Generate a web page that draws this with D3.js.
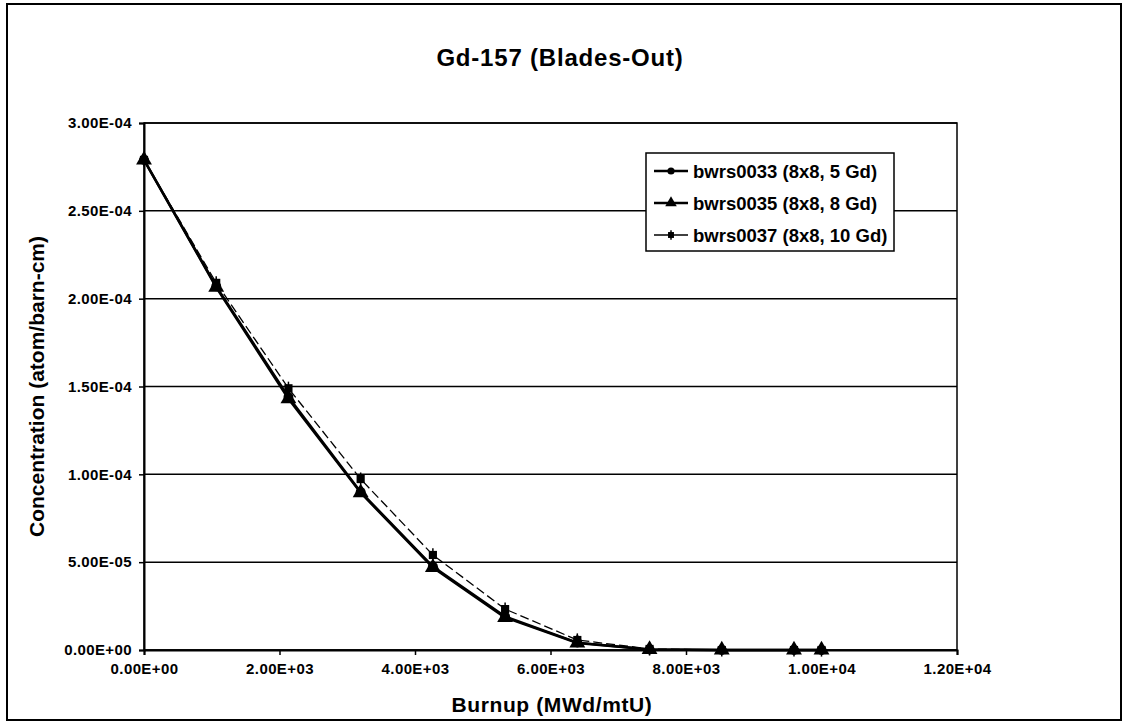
<!DOCTYPE html>
<html>
<head>
<meta charset="utf-8">
<script src="https://cdn.jsdelivr.net/npm/d3@7"></script>
<style>
    body { margin: 0; background: #fff; }
    svg text { font-family: Arial, "Liberation Sans", sans-serif; fill: #000; }
</style>
</head>
<body>
<div id="chart"></div>
<script>
var burnup = [0, 1066, 2132, 3198, 4264, 5330, 6396, 7462, 8528, 9594, 10000];
var gd5 = [2.79e-4, 2.07e-4, 1.44e-4, 9.0e-5, 4.75e-5, 1.9e-5, 4.2e-6, 3e-7, 0, 0, 0];
var gd8 = [2.79e-4, 2.065e-4, 1.43e-4, 8.95e-5, 4.7e-5, 1.85e-5, 4.0e-6, 3e-7, 0, 0, 0];
var gd10 = [2.79e-4, 2.09e-4, 1.49e-4, 9.73e-5, 5.41e-5, 2.33e-5, 5.7e-6, 6e-7, 0, 0, 0];
var seriesNames = ['bwrs0033 (8x8, 5 Gd)', 'bwrs0035 (8x8, 8 Gd)', 'bwrs0037 (8x8, 10 Gd)'];
var xTicks = [0, 2000, 4000, 6000, 8000, 10000, 12000];
var yTicks = [0, 5e-5, 1e-4, 1.5e-4, 2e-4, 2.5e-4, 3e-4];

var width = 1126, height = 725;
var plot = { left: 144, right: 957, top: 123, bottom: 650 };

// excel style 1.00E-04
var sci = function (v) {
    var s = v.toExponential(2).toUpperCase();
    var parts = s.split('E');
    var e = parseInt(parts[1], 10);
    var sign = e < 0 ? '-' : '+';
    var ab = Math.abs(e);
    return parts[0] + 'E' + sign + (ab < 10 ? '0' : '') + ab;
};

var x = d3.scaleLinear().domain([0, 12000]).range([plot.left, plot.right]);
var y = d3.scaleLinear().domain([0, 3e-4]).range([plot.bottom, plot.top]);

var svg = d3.select('#chart').append('svg')
    .attr('width', width)
    .attr('height', height);

svg.append('rect')
    .attr('x', 7).attr('y', 4)
    .attr('width', 1114).attr('height', 716)
    .attr('fill', '#fff')
    .attr('stroke', '#000')
    .attr('stroke-width', 2);

svg.append('text')
    .attr('x', 560).attr('y', 66)
    .attr('text-anchor', 'middle')
    .attr('font-size', 24)
    .attr('font-weight', 'bold')
    .attr('letter-spacing', 0.8)
    .text('Gd-157 (Blades-Out)');

// gridlines
svg.append('g').selectAll('line')
    .data(yTicks)
    .enter().append('line')
    .attr('x1', plot.left).attr('x2', plot.right)
    .attr('y1', function (d) { return y(d); })
    .attr('y2', function (d) { return y(d); })
    .attr('stroke', '#000')
    .attr('stroke-width', 1.5);

svg.append('rect')
    .attr('x', plot.left).attr('y', plot.top)
    .attr('width', plot.right - plot.left).attr('height', plot.bottom - plot.top)
    .attr('fill', 'none')
    .attr('stroke', '#000')
    .attr('stroke-width', 1.5);

var xAxis = svg.append('g')
    .attr('transform', 'translate(0,' + plot.bottom + ')')
    .call(d3.axisBottom(x).tickValues(xTicks).tickFormat(sci).tickSize(5).tickPadding(8));
var yAxis = svg.append('g')
    .attr('transform', 'translate(' + plot.left + ',0)')
    .call(d3.axisLeft(y).tickValues(yTicks).tickFormat(sci).tickSize(5).tickPadding(7));

[xAxis, yAxis].forEach(function (ax) {
    ax.select('.domain').attr('stroke', '#000').attr('stroke-width', 2);
    ax.selectAll('.tick line').attr('stroke', '#000').attr('stroke-width', 1.5);
    ax.selectAll('.tick text')
        .attr('font-size', 15)
        .attr('font-weight', 'bold')
        .attr('letter-spacing', 0.4)
        .attr('fill', '#000')
        .style('font-family', 'Arial, "Liberation Sans", sans-serif');
});

svg.append('text')
    .attr('x', 552).attr('y', 712)
    .attr('text-anchor', 'middle')
    .attr('font-size', 21)
    .attr('font-weight', 'bold')
    .attr('letter-spacing', 0.6)
    .text('Burnup (MWd/mtU)');

svg.append('text')
    .attr('transform', 'translate(44,' + ((plot.top + plot.bottom) / 2) + ') rotate(-90)')
    .attr('text-anchor', 'middle')
    .attr('font-size', 21)
    .attr('font-weight', 'bold')
    .text('Concentration (atom/barn-cm)');

var series = [
    { name: seriesNames[0], values: gd5, width: 2.5, dash: null, marker: 'circle' },
    { name: seriesNames[1], values: gd8, width: 2.5, dash: null, marker: 'triangle' },
    { name: seriesNames[2], values: gd10, width: 1.3, dash: '9,4', marker: 'cross' }
];

var line = d3.line()
    .x(function (d) { return x(d[0]); })
    .y(function (d) { return y(d[1]); });

var drawMarker = function (g, type, size) {
    if (type === 'circle') {
        g.append('circle').attr('r', size * 0.45).attr('fill', '#000');
    } else if (type === 'triangle') {
        g.append('path').attr('d', d3.symbol().type(d3.symbolTriangle).size(size * size * 0.9)()).attr('fill', '#000');
    } else {
        g.append('path').attr('d', d3.symbol().type(d3.symbolSquare).size(size * size * 0.55)()).attr('fill', '#000');
        g.append('line').attr('y1', -size * 0.6).attr('y2', size * 0.6).attr('stroke', '#000').attr('stroke-width', 1.5);
    }
};

series.slice().reverse().forEach(function (s) {
    var pts = burnup.map(function (b, i) { return [b, s.values[i]]; });
    svg.append('path')
        .datum(pts)
        .attr('d', line)
        .attr('fill', 'none')
        .attr('stroke', '#000')
        .attr('stroke-width', s.width)
        .attr('stroke-dasharray', s.dash);
    svg.append('g').selectAll('g')
        .data(pts)
        .enter().append('g')
        .attr('transform', function (d) { return 'translate(' + x(d[0]) + ',' + y(d[1]) + ')'; })
        .each(function () { drawMarker(d3.select(this), s.marker, 11); });
});

// legend
var legend = svg.append('g').attr('transform', 'translate(646,153)');
legend.append('rect')
    .attr('width', 248).attr('height', 98)
    .attr('fill', '#fff')
    .attr('stroke', '#000')
    .attr('stroke-width', 1.5);

var item = legend.selectAll('.item')
    .data(series)
    .enter().append('g')
    .attr('class', 'item')
    .attr('transform', function (d, i) { return 'translate(0,' + (18 + i * 32) + ')'; });

item.append('line')
    .attr('x1', 8).attr('x2', 42)
    .attr('stroke', '#000')
    .attr('stroke-width', function (d) { return d.width; });
item.append('g')
    .attr('transform', 'translate(25,0)')
    .each(function (d) { drawMarker(d3.select(this), d.marker, 8); });
item.append('text')
    .attr('x', 47).attr('y', 7)
    .attr('font-size', 18.5)
    .attr('font-weight', 'bold')
    .text(function (d) { return d.name; });
</script>
</body>
</html>
